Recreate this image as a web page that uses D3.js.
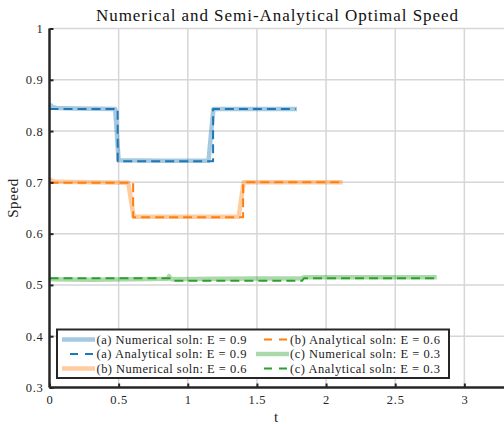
<!DOCTYPE html>
<html>
<head>
<meta charset="utf-8">
<script src="https://cdn.jsdelivr.net/npm/d3@7"></script>
<style>
  html, body { margin: 0; padding: 0; background: #fff; }
</style>
</head>
<body>
<svg id="chart" width="504" height="424"></svg>
<script>
// Optimal speed profiles: numerical solutions vs semi-analytical solutions
const numA = [[0,0.852],[0.02,0.847],[0.05,0.845],[0.2,0.844],[0.475,0.843],[0.50,0.743],[0.8,0.742],[1.15,0.742],[1.185,0.843],[1.79,0.843]];
const anaA = [[0,0.843],[0.493,0.843],[0.493,0.741],[1.183,0.741],[1.183,0.843],[1.78,0.843]];
const numB = [[0,0.706],[0.02,0.703],[0.05,0.701],[0.3,0.700],[0.57,0.699],[0.608,0.633],[1.0,0.633],[1.368,0.633],[1.404,0.700],[2.12,0.700]];
const anaB = [[0,0.699],[0.605,0.699],[0.605,0.632],[1.40,0.632],[1.40,0.700],[2.115,0.700]];
const numC = [[0,0.511],[0.3,0.510],[0.6,0.511],[0.855,0.512],[0.865,0.517],[0.88,0.511],[1.2,0.512],[1.82,0.513],[1.84,0.515],[2.8,0.515]];
const anaC = [[0,0.513],[0.87,0.513],[0.886,0.508],[1.826,0.508],[1.84,0.513],[2.80,0.513]];

const seriesColors = ["#1f77b4", "#ff7f0e", "#2ca02c"];
const legendLabels = [
  "(a) Numerical soln: E = 0.9", "(a) Analytical soln: E = 0.9",
  "(b) Numerical soln: E = 0.6", "(b) Analytical soln: E = 0.6",
  "(c) Numerical soln: E = 0.3", "(c) Analytical soln: E = 0.3"
];
const xTicks = [0, 0.5, 1, 1.5, 2, 2.5, 3];
const yTicks = [0.3, 0.4, 0.5, 0.6, 0.7, 0.8, 0.9, 1];

const serif = "'Liberation Serif', 'Times New Roman', 'DejaVu Serif', serif";
const svg = d3.select("#chart");
const pLeft = 49.5, pTop = 28.5, pBottom = 387.5, pRight = 533.5;
const x = d3.scaleLinear().domain([0, 3.5]).range([pLeft, pRight]);
const y = d3.scaleLinear().domain([0.3, 1]).range([pBottom, pTop]);

// grid
const grid = svg.append("g").attr("stroke", "#d6d6d6").attr("stroke-width", 1.5);
xTicks.filter(d => d > 0).forEach(d => grid.append("line")
  .attr("x1", x(d)).attr("x2", x(d)).attr("y1", pTop).attr("y2", pBottom));
yTicks.filter(d => d > 0.3).forEach(d => grid.append("line")
  .attr("x1", pLeft).attr("x2", pRight).attr("y1", y(d)).attr("y2", y(d)));

// series
const line = d3.line().x(d => x(d[0])).y(d => y(d[1]));
const plotSets = [
  { data: numA, c: 0, dashed: false }, { data: anaA, c: 0, dashed: true },
  { data: numB, c: 1, dashed: false }, { data: anaB, c: 1, dashed: true },
  { data: numC, c: 2, dashed: false }, { data: anaC, c: 2, dashed: true }
];
plotSets.forEach(s => {
  svg.append("path").attr("d", line(s.data)).attr("fill", "none")
    .attr("stroke", seriesColors[s.c])
    .attr("stroke-opacity", s.dashed ? 1 : 0.4)
    .attr("stroke-width", s.dashed ? 2 : 4.5)
    .attr("stroke-dasharray", s.dashed ? "9,5" : null)
    .attr("stroke-linejoin", "round");
});

// axes
const axisColor = "#262626";
const yAxis = d3.axisLeft(y).tickValues(yTicks).tickSize(-4).tickPadding(6)
  .tickFormat(d => d === 1 ? "1" : d3.format(".1f")(d));
const gy = svg.append("g").attr("transform", `translate(${pLeft},0)`).call(yAxis);
const xAxis = d3.axisBottom(x).tickValues(xTicks).tickSize(-4).tickPadding(8)
  .tickFormat(d => String(d));
const gx = svg.append("g").attr("transform", `translate(0,${pBottom})`).call(xAxis);
[gx, gy].forEach(g => {
  g.attr("font-family", serif).attr("font-size", 12.5);
  g.select(".domain").attr("stroke", axisColor).attr("stroke-width", 2.5);
  g.selectAll(".tick line").attr("stroke", axisColor).attr("stroke-width", 2);
  g.selectAll(".tick text").attr("fill", axisColor)
    .style("font-family", serif).style("font-size", "12.5px").style("letter-spacing", "0.7px");
});
gx.select(".domain").attr("d", `M${pLeft},0H${pRight}`);
gy.select(".domain").attr("d", `M0,${pBottom}V${pTop}`);

// title and labels
svg.append("text").attr("x", 96).attr("y", 20.5)
  .attr("textLength", 362).attr("lengthAdjust", "spacing")
  .attr("fill", "#111").style("font-family", serif).style("font-size", "17px")
  .text("Numerical and Semi-Analytical Optimal Speed");
svg.append("text").attr("x", 276).attr("y", 421.5).attr("text-anchor", "middle")
  .attr("fill", axisColor).style("font-family", serif).style("font-size", "15px").text("t");
svg.append("text").attr("transform", "translate(18,198) rotate(-90)")
  .attr("text-anchor", "middle").attr("fill", axisColor)
  .style("font-family", serif).style("font-size", "15px").style("letter-spacing", "0.6px").text("Speed");

// legend
const lg = svg.append("g");
lg.append("rect").attr("x", 57).attr("y", 329.5).attr("width", 392).attr("height", 48.5)
  .attr("fill", "#fff").attr("stroke", axisColor).attr("stroke-width", 2);
const colX = [62, 256], textX = [96.5, 290], rowY = [339.5, 354, 368.5];
legendLabels.forEach((lab, i) => {
  const col = i < 3 ? 0 : 1, row = i % 3;
  const s = plotSets[i];
  const yy = rowY[row];
  lg.append("line")
    .attr("x1", colX[col] + (s.dashed ? 8 : 0))
    .attr("x2", colX[col] + (s.dashed ? 31 : 33))
    .attr("y1", yy).attr("y2", yy)
    .attr("stroke", seriesColors[s.c])
    .attr("stroke-opacity", s.dashed ? 1 : 0.4)
    .attr("stroke-width", s.dashed ? 2 : 4.5)
    .attr("stroke-dasharray", s.dashed ? "8,7" : null);
  lg.append("text").attr("x", textX[col]).attr("y", yy + 4.2).attr("fill", "#222")
    .attr("textLength", 150).attr("lengthAdjust", "spacing")
    .style("font-family", serif).style("font-size", "12.5px").text(lab);
});
</script>
</body>
</html>
